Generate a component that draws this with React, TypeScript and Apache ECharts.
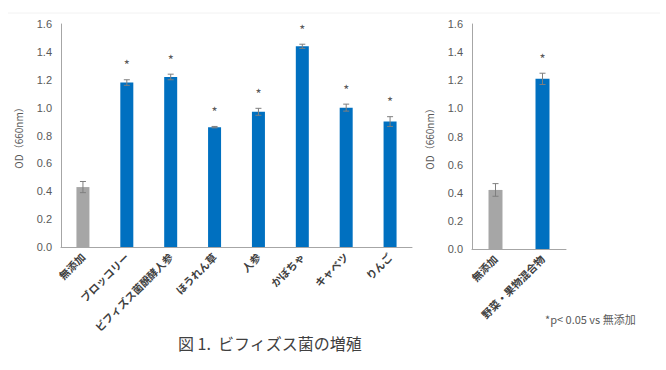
import React, { useEffect, useRef } from "react";
import * as echarts from "echarts";

const leftCategories = ["無添加", "ブロッコリー", "ビフィズス菌醗酵人参", "ほうれん草", "人参", "かぼちゃ", "キャベツ", "りんご"];
const leftValues = [0.43, 1.18, 1.22, 0.86, 0.97, 1.44, 1.0, 0.9];
const leftErrors = [0.04, 0.02, 0.02, 0.005, 0.025, 0.015, 0.025, 0.035];
const leftSig = [false, true, true, true, true, true, true, true];

const rightCategories = ["無添加", "野菜・果物混合物"];
const rightValues = [0.42, 1.21];
const rightErrors = [0.045, 0.04];
const rightSig = [false, true];

const yTicks = { min: 0, max: 1.6, interval: 0.2 };

const FONT = '"Noto Sans CJK JP", "Noto Sans", sans-serif';
const BLUE = "#0070C0";
const GRAY = "#A6A6A6";
const TEXT = "#595959";

function barData(values: number[]) {
  return values.map((v, i) => ({ value: v, itemStyle: { color: i === 0 ? GRAY : BLUE } }));
}
function errData(values: number[], errors: number[], sig: boolean[]) {
  return values.map((v, i) => [i, v, errors[i], sig[i] ? 1 : 0]);
}

const renderErr = (params: any, api: any) => {
  const x = api.value(0);
  const v = api.value(1);
  const e = api.value(2);
  const s = api.value(3);
  const top = api.coord([x, v + e]);
  const bot = api.coord([x, v - e]);
  const cw = 3;
  const st = { stroke: "#7f7f7f", lineWidth: 1 };
  const children: any[] = [
    { type: "line", shape: { x1: top[0], y1: top[1], x2: bot[0], y2: bot[1] }, style: st },
    { type: "line", shape: { x1: top[0] - cw, y1: top[1], x2: top[0] + cw, y2: top[1] }, style: st },
    { type: "line", shape: { x1: bot[0] - cw, y1: bot[1], x2: bot[0] + cw, y2: bot[1] }, style: st },
  ];
  if (s) {
    children.push({
      type: "text",
      style: {
        text: "*",
        x: top[0],
        y: top[1] - 15,
        textAlign: "center",
        textVerticalAlign: "middle",
        fill: TEXT,
        stroke: "none",
        font: `13px ${FONT}`,
      },
    });
  }
  return { type: "group", children };
};

function yAxis(gridIndex: number) {
  return {
    type: "value",
    gridIndex,
    min: yTicks.min,
    max: yTicks.max,
    interval: yTicks.interval,
    name: "OD（660nm）",
    nameLocation: "middle",
    nameRotate: 90,
    nameGap: 38,
    nameTextStyle: { color: TEXT, fontSize: 10, fontFamily: FONT },
    axisLine: { show: true, lineStyle: { color: GRAY, width: 1 } },
    axisTick: { show: false },
    splitLine: { show: false },
    axisLabel: { color: TEXT, fontSize: 11, fontFamily: "Arial, Liberation Sans, sans-serif", formatter: (v: number) => v.toFixed(1), margin: 9 },
  };
}
function xAxis(gridIndex: number, data: string[]) {
  return {
    type: "category",
    gridIndex,
    data,
    axisLine: { show: true, lineStyle: { color: GRAY, width: 1 } },
    axisTick: { show: false },
    axisLabel: { rotate: 45, interval: 0, color: "#404040", fontSize: 10.5, fontWeight: "bold", fontFamily: FONT, margin: 8 },
  };
}

export default function App() {
  const ref = useRef<HTMLDivElement>(null);
  useEffect(() => {
    if (!ref.current) return;
    const chart = echarts.init(ref.current, undefined, { renderer: "svg" });
    chart.setOption({
      animation: false,
      backgroundColor: "#ffffff",
      grid: [
        { left: 61, top: 24, width: 351, height: 223 },
        { left: 472, top: 24, width: 94, height: 225 },
      ],
      xAxis: [xAxis(0, leftCategories), xAxis(1, rightCategories)],
      yAxis: [yAxis(0), yAxis(1)],
      series: [
        { type: "bar", xAxisIndex: 0, yAxisIndex: 0, barWidth: 13, data: barData(leftValues) },
        { type: "custom", xAxisIndex: 0, yAxisIndex: 0, itemStyle: { color: TEXT }, renderItem: renderErr, data: errData(leftValues, leftErrors, leftSig), z: 5 },
        { type: "bar", xAxisIndex: 1, yAxisIndex: 1, barWidth: 14, data: barData(rightValues) },
        { type: "custom", xAxisIndex: 1, yAxisIndex: 1, itemStyle: { color: TEXT }, renderItem: renderErr, data: errData(rightValues, rightErrors, rightSig), z: 5 },
      ],
      graphic: [
        { type: "line", shape: { x1: 8, y1: 13, x2: 660, y2: 13 }, style: { stroke: "#f2f2f2", lineWidth: 1 } },
        {
          type: "text",
          left: 545,
          top: 313,
          style: { text: "*p< 0.05 vs 無添加", fill: TEXT, font: `11px ${FONT}` },
        },
        {
          type: "text",
          left: 178,
          top: 335,
          style: { text: "図 1.  ビフィズス菌の増殖", fill: "#404040", font: `16px ${FONT}` },
        },
      ],
    });
    return () => chart.dispose();
  }, []);
  return <div ref={ref} style={{ position: "fixed", left: 0, top: 0, width: 666, height: 370 }} />;
}
